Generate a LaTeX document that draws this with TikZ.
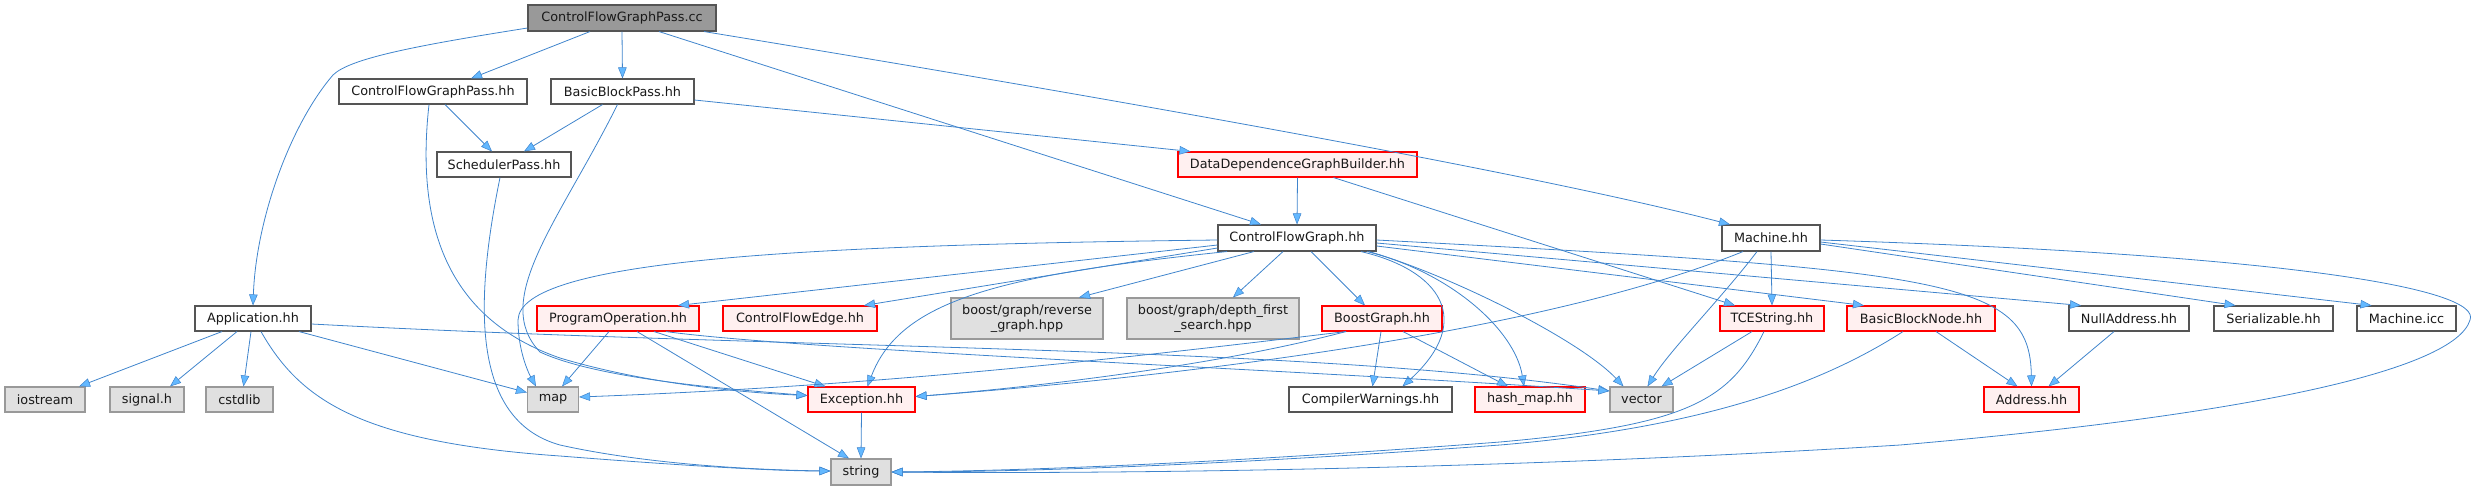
\documentclass[tikz,border=0pt]{standalone}
\usepackage{fontspec}
\setmainfont{DejaVu Sans}
\usetikzlibrary{arrows.meta}
\definecolor{edgec}{HTML}{3F84CC}
\definecolor{arrowc}{HTML}{63B8FF}
\definecolor{nborder}{HTML}{555555}
\definecolor{gborder}{HTML}{999999}
\definecolor{gfill}{HTML}{E0E0E0}
\definecolor{rfill}{HTML}{FFF0F0}
\definecolor{rootfill}{HTML}{999999}
\begin{document}
\begin{tikzpicture}[x=1pt,y=-1pt,
  box/.style={rectangle,inner sep=0pt,minimum height=25pt,line width=1.1pt,
     font=\fontsize{12.8}{14.5}\selectfont,text=black!90,align=center},
  wbox/.style={box,draw=nborder,fill=white},
  gbox/.style={box,draw=gborder,fill=gfill},
  rbox/.style={box,draw=red,fill=rfill},
  rootbox/.style={box,draw=nborder,fill=rootfill,minimum height=26pt},
  edge/.style={draw=edgec,line width=0.8pt,
     -{Triangle[length=11pt,width=8.5pt,color=edgec,fill=arrowc,line width=0.5pt]}}]
\useasboundingbox (0,0) rectangle (2482,491);
% nodes
\node[rootbox,minimum width=188pt] (root) at (622,18) {ControlFlowGraphPass.cc};
\node[wbox,minimum width=188pt] (cfgp) at (433,91.5) {ControlFlowGraphPass.hh};
\node[wbox,minimum width=143pt] (bbp) at (622.5,91.5) {BasicBlockPass.hh};
\node[wbox,minimum width=134pt] (sp) at (504,164.5) {SchedulerPass.hh};
\node[rbox,minimum width=239pt] (ddgb) at (1297.5,164.5) {DataDependenceGraphBuilder.hh};
\node[wbox,minimum width=158pt,minimum height=26pt] (cfg) at (1297,238) {ControlFlowGraph.hh};
\node[wbox,minimum width=98pt,minimum height=26pt] (mach) at (1771,238) {Machine.hh};
\node[wbox,minimum width=116pt] (app) at (253,318.5) {Application.hh};
\node[rbox,minimum width=162pt] (po) at (618,318.5) {ProgramOperation.hh};
\node[rbox,minimum width=154pt] (cfe) at (800,318.5) {ControlFlowEdge.hh};
\node[gbox,minimum width=152pt,minimum height=41pt] (rev) at (1027,318.5) {boost/graph/reverse\\\_graph.hpp};
\node[gbox,minimum width=172pt,minimum height=41pt] (dfs) at (1213,318.5) {boost/graph/depth\_first\\\_search.hpp};
\node[rbox,minimum width=120pt] (bg) at (1382,318.5) {BoostGraph.hh};
\node[rbox,minimum width=104pt] (tce) at (1772,318.5) {TCEString.hh};
\node[rbox,minimum width=148pt] (bbn) at (1921,318.5) {BasicBlockNode.hh};
\node[wbox,minimum width=120pt] (nul) at (2129,318.5) {NullAddress.hh};
\node[wbox,minimum width=119pt] (ser) at (2273.5,318.5) {Serializable.hh};
\node[wbox,minimum width=99pt] (micc) at (2406.5,318.5) {Machine.icc};
\node[gbox,minimum width=80pt] (ios) at (45,399.5) {iostream};
\node[gbox,minimum width=74pt] (sig) at (147,399.5) {signal.h};
\node[gbox,minimum width=67pt] (cstd) at (239.5,399.5) {cstdlib};
\node[gbox,minimum width=51pt] (map) at (553,399.5) {map};
\node[rbox,minimum width=107pt] (exc) at (861.5,399.5) {Exception.hh};
\node[gbox,minimum width=60pt,minimum height=26pt] (str) at (861,472) {string};
\node[wbox,minimum width=163pt] (cw) at (1370.5,399.5) {CompilerWarnings.hh};
\node[rbox,minimum width=110pt] (hm) at (1530,399.5) {hash\_map.hh};
\node[gbox,minimum width=63pt] (vec) at (1641.5,399.5) {vector};
\node[rbox,minimum width=95pt] (addr) at (2031.5,399.5) {Address.hh};
% edges from root
\draw[edge] ([yshift=-10pt]root.west) .. controls (420,45) and (350,58) .. (333,75) .. controls (290,125) and (256,220) .. (app.north);
\draw[edge] ([xshift=-32pt]root.south) -- ([xshift=38pt]cfgp.north);
\draw[edge] (root.south) -- (bbp.north);
\draw[edge] ([xshift=37pt]root.south) -- ([xshift=-36pt]cfg.north);
\draw[edge] ([xshift=82pt]root.south) .. controls (1000,80) and (1500,165) .. ([xshift=-41pt]mach.north);
% ControlFlowGraphPass.hh
\draw[edge] ([xshift=12pt]cfgp.south) -- ([xshift=-12pt]sp.north);
\draw[edge] ([xshift=-4pt]cfgp.south) .. controls (415,230) and (450,320) .. (560,358) .. controls (650,385) and (750,393) .. ([yshift=4pt]exc.west);
% SchedulerPass.hh
\draw[edge] ([xshift=-4pt]sp.south) .. controls (475,300) and (470,420) .. (560,445) .. controls (650,465) and (760,470) .. ([yshift=1pt]str.west);
% BasicBlockPass.hh
\draw[edge] ([xshift=-20pt]bbp.south) -- ([xshift=20pt]sp.north);
\draw[edge] ([yshift=-8.5pt]bbp.east) -- ([xshift=-107pt]ddgb.north);
\draw[edge] ([xshift=-5pt]bbp.south) .. controls (560,220) and (490,300) .. (540,352) .. controls (600,380) and (740,390) .. ([yshift=4pt]exc.west);
% DataDependenceGraphBuilder.hh
\draw[edge] (ddgb.south) -- (cfg.north);
\draw[edge] ([xshift=36pt]ddgb.south) -- ([xshift=-37pt]tce.north);
% ControlFlowGraph.hh
\draw[edge] ([yshift=-2pt]cfg.west) .. controls (800,245) and (520,260) .. (518,320) .. controls (518,350) and (528,372) .. ([xshift=-17pt]map.north);
\draw[edge] ([yshift=-7pt]cfg.west) -- ([xshift=60pt]po.north);
\draw[edge] ([yshift=-10pt]cfg.west) -- ([xshift=64pt]cfe.north);
\draw[edge] ([xshift=-70pt]cfg.south) .. controls (1000,275) and (900,300) .. ([xshift=6pt]exc.north);
\draw[edge] ([xshift=-43pt]cfg.south) -- ([xshift=52pt]rev.north);
\draw[edge] ([xshift=-14pt]cfg.south) -- ([xshift=20pt]dfs.north);
\draw[edge] ([xshift=14pt]cfg.south) -- ([xshift=-17pt]bg.north);
\draw[edge] ([xshift=64pt]cfg.south) .. controls (1440,270) and (1475,320) .. ([xshift=32pt]cw.north);
\draw[edge] ([xshift=70pt]cfg.south) .. controls (1450,272) and (1515,330) .. ([xshift=-6pt]hm.north);
\draw[edge] ([xshift=72pt]cfg.south) .. controls (1450,275) and (1580,340) .. ([xshift=-18pt]vec.north);
\draw[edge] ([yshift=-8pt]cfg.east) -- ([xshift=-57pt]bbn.north);
\draw[edge] ([yshift=-5pt]cfg.east) -- ([xshift=-48pt]nul.north);
\draw[edge] ([yshift=-2pt]cfg.east) .. controls (1950,270) and (2030,280) .. (addr.north);
% Machine.hh
\draw[edge] (mach.south) -- (tce.north);
\draw[edge] ([xshift=-14pt]mach.south) .. controls (1720,300) and (1670,350) .. ([xshift=6pt]vec.north);
\draw[edge] ([xshift=-28pt]mach.south) .. controls (1550,330) and (1200,375) .. ([yshift=3pt]exc.east);
\draw[edge] ([yshift=-6pt]mach.east) -- ([xshift=-38pt]ser.north);
\draw[edge] ([yshift=-4pt]mach.east) -- ([xshift=-35pt]micc.north);
\draw[edge] ([yshift=-2pt]mach.east) .. controls (2300,255) and (2482,290) .. (2470,320) .. controls (2455,370) and (2250,415) .. (1900,445) .. controls (1500,470) and (1100,474) .. (str.east);
% TCEString.hh
\draw[edge] ([xshift=-20pt]tce.south) -- ([xshift=20pt]vec.north);
\draw[edge] ([xshift=-8pt]tce.south) .. controls (1730,400) and (1690,425) .. (1500,442) .. controls (1200,465) and (1000,471) .. (str.east);
% BasicBlockNode.hh
\draw[edge] ([xshift=-18pt]bbn.south) .. controls (1820,385) and (1700,428) .. (1500,445) .. controls (1200,467) and (1000,472) .. (str.east);
\draw[edge] ([xshift=15pt]bbn.south) -- ([xshift=-14pt]addr.north);
% NullAddress.hh
\draw[edge] ([xshift=-15pt]nul.south) -- ([xshift=17pt]addr.north);
% Application.hh
\draw[edge] ([xshift=-31pt]app.south) -- ([xshift=34pt]ios.north);
\draw[edge] ([xshift=-16pt]app.south) -- ([xshift=23pt]sig.north);
\draw[edge] ([xshift=-2pt]app.south) -- ([xshift=4pt]cstd.north);
\draw[edge] ([xshift=46pt]app.south) -- ([yshift=7pt]map.west);
\draw[edge] ([xshift=8pt]app.south) .. controls (300,400) and (360,442) .. (560,456) .. controls (700,467) and (780,471) .. ([yshift=1pt]str.west);
\draw[edge] ([yshift=-5.5pt]app.east) .. controls (800,350) and (1300,345) .. ([yshift=8.5pt]vec.west);
% ProgramOperation.hh
\draw[edge] ([xshift=-9pt]po.south) -- ([xshift=9pt]map.north);
\draw[edge] ([xshift=19pt]po.south) -- ([xshift=-12pt]str.north);
\draw[edge] ([xshift=36pt]po.south) -- ([xshift=-36pt]exc.north);
\draw[edge] ([xshift=48pt]po.south) .. controls (800,350) and (1300,370) .. ([yshift=8.5pt]vec.west);
% BoostGraph.hh
\draw[edge] ([xshift=-36pt]bg.south) .. controls (1150,355) and (900,385) .. ([yshift=2.5pt]map.east);
\draw[edge] ([xshift=-36pt]bg.south) .. controls (1200,370) and (1000,390) .. ([yshift=3pt]exc.east);
\draw[edge] ([xshift=-1pt]bg.south) -- ([xshift=2pt]cw.north);
\draw[edge] ([xshift=21pt]bg.south) -- ([xshift=-22pt]hm.north);
% Exception.hh
\draw[edge] (exc.south) -- (str.north);
\end{tikzpicture}
\end{document}
